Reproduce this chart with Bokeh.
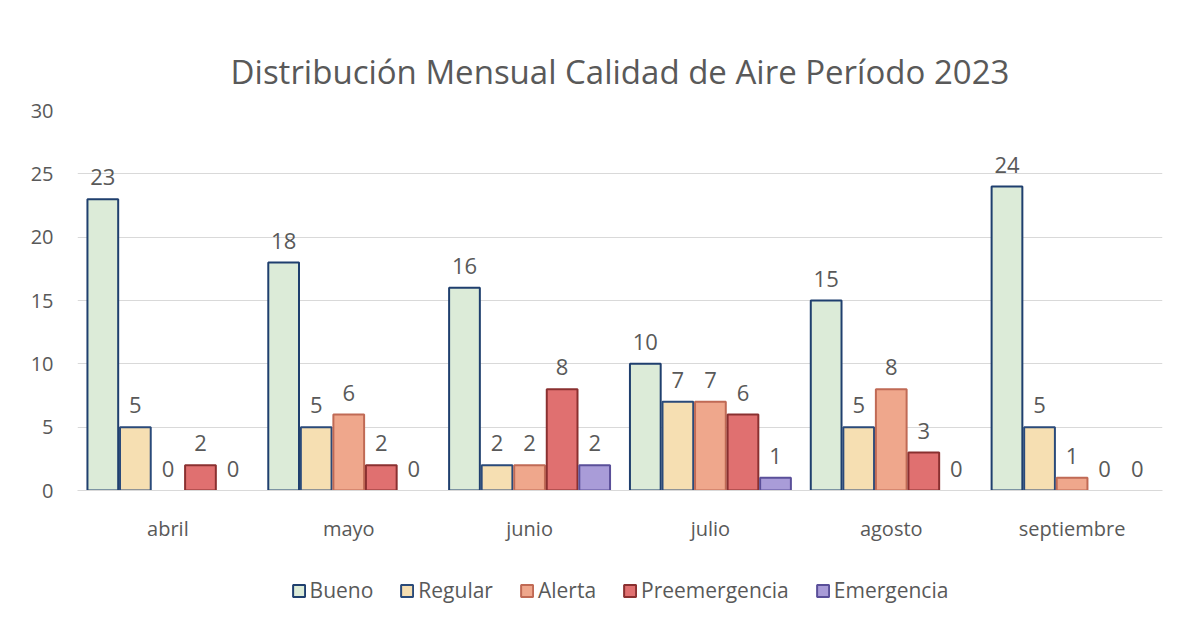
from bokeh.plotting import figure
from bokeh.layouts import column
from bokeh.models import ColumnDataSource, LabelSet, Legend, LegendItem, Range1d, FactorRange
from bokeh.core.properties import value
from bokeh.transform import dodge
from bokeh.embed import file_html
from bokeh.resources import INLINE

months = ["abril", "mayo", "junio", "julio", "agosto", "septiembre"]
series = ["Bueno", "Regular", "Alerta", "Preemergencia", "Emergencia"]
bueno = [23, 18, 16, 10, 15, 24]
regular = [5, 5, 2, 7, 5, 5]
alerta = [0, 6, 2, 7, 8, 1]
preemergencia = [2, 2, 8, 6, 3, 0]
emergencia = [0, 0, 2, 1, 0, 0]
values = [bueno, regular, alerta, preemergencia, emergencia]

fills = ["#dcebd8", "#f6dfb2", "#efa78c", "#e07070", "#a99cd8"]
lines = ["#1f3f6e", "#2a4a7a", "#c06a55", "#8a3030", "#5a4f99"]

FONT = "Open Sans"
GRAY = "#595959"

p = figure(x_range=FactorRange(*months, range_padding=0.0), y_range=Range1d(0, 30),
           frame_width=1085, frame_height=380, output_backend="svg", toolbar_location=None,
           title="Distribución Mensual Calidad de Aire Período 2023",
           min_border_left=77, min_border_right=14, min_border_top=110, min_border_bottom=62)
p.title.align = "center"
p.title.text_font = FONT
p.title.text_font_size = "33px"
p.title.text_font_style = "normal"
p.title.text_color = GRAY
p.title.standoff = 34

p.outline_line_color = None
p.xgrid.grid_line_color = None
p.ygrid.grid_line_color = "#d9d9d9"
p.ygrid.grid_line_width = 1
p.yaxis.ticker = [0, 5, 10, 15, 20, 25, 30]
for ax in (p.xaxis, p.yaxis):
    ax.axis_line_color = None
    ax.major_tick_line_color = None
    ax.minor_tick_line_color = None
    ax.major_label_text_font = FONT
    ax.major_label_text_font_size = "20px"
    ax.major_label_text_color = GRAY
p.xaxis.axis_line_color = "#d9d9d9"
p.xaxis.major_label_standoff = 18
p.yaxis.major_label_standoff = 18

offsets = [-0.36, -0.18, 0.0, 0.18, 0.36]
bw = 0.17
items = []
for name, vals, fc, lc, off in zip(series, values, fills, lines, offsets):
    xs = [m for m, v in zip(months, vals) if v > 0]
    ys = [v for v in vals if v > 0]
    src = ColumnDataSource(dict(x=xs, top=ys))
    p.vbar(x=dodge("x", off, range=p.x_range), top="top", width=bw, source=src,
           fill_color=fc, line_color=lc, line_width=2)
    lsrc = ColumnDataSource(dict(x=months, y=vals, t=[str(v) for v in vals]))
    p.add_layout(LabelSet(x=dodge("x", off, range=p.x_range), y="y", text="t", source=lsrc,
                          text_align="center", y_offset=14, text_font=value(FONT),
                          text_font_size=value("22px"), text_color=value(GRAY)))

# legend strip
lg = figure(width=p.frame_width + 91, height=76, x_range=Range1d(0, 1), y_range=Range1d(0, 1),
            output_backend="svg", toolbar_location=None, min_border=0,
            x_axis_location=None, y_axis_location=None)
lg.outline_line_color = None
lg.xgrid.visible = False
lg.ygrid.visible = False
for name, fc, lc in zip(series, fills, lines):
    r = lg.vbar(x=[0.5], top=[1], width=0.1, fill_color=fc, line_color=lc, line_width=2,
                visible=False)
    items.append(LegendItem(label=name, renderers=[r]))
legend = Legend(items=items, orientation="horizontal", location="center",
                label_text_font=FONT, label_text_font_size="21px", label_text_color=GRAY,
                border_line_color=None, background_fill_alpha=0,
                glyph_width=15, glyph_height=15, spacing=26, label_standoff=4,
                margin=0, padding=2)
lg.add_layout(legend, "center")

layout = column(p, lg, spacing=0)
open("out.html", "w").write(file_html(layout, INLINE))
